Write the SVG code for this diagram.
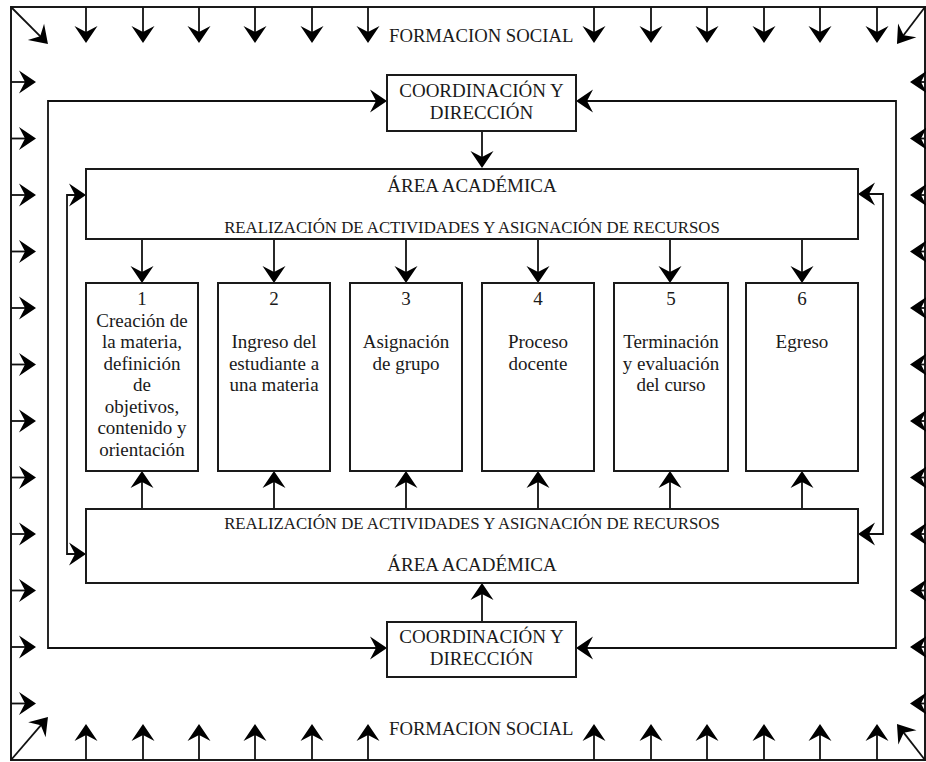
<svg xmlns="http://www.w3.org/2000/svg" width="926" height="762" viewBox="0 0 926 762">
<defs>
<marker id="ah" viewBox="-9 -13 20 26" refX="0" refY="0" markerWidth="20" markerHeight="26" orient="auto-start-reverse" markerUnits="userSpaceOnUse" overflow="visible">
<path d="M9,0 L-8,-11.5 L-2,0 L-8,11.5 Z" fill="#000"/>
</marker>
<style>
.bx{fill:#fff;stroke:#1a1a1a;stroke-width:2}
.ar{fill:none;stroke:#111;stroke-width:1.8;marker-end:url(#ah)}
.ar2{fill:none;stroke:#111;stroke-width:1.8;marker-start:url(#ah);marker-end:url(#ah)}
.t{font-family:"Liberation Serif","Times New Roman",serif;font-size:19px;fill:#1a1a1a;text-anchor:middle}
.r{font-size:16.8px}
.fs{font-family:"Liberation Serif","Times New Roman",serif;font-size:18.7px;fill:#1a1a1a}
</style>
</defs>
<rect x="0" y="0" width="926" height="762" fill="#fff"/>
<g id="frame">
<rect x="11" y="7" width="914" height="753" fill="none" stroke="#1a1a1a" stroke-width="2"/>
<text class="fs" x="389" y="42">FORMACION SOCIAL</text>
<text class="fs" x="389" y="735">FORMACION SOCIAL</text>
</g>
<g id="connectors">
<path class="ar" d="M86,7V34"/><path class="ar" d="M143,7V34"/><path class="ar" d="M199,7V34"/><path class="ar" d="M255,7V34"/><path class="ar" d="M312,7V34"/><path class="ar" d="M368,7V34"/>
<path class="ar" d="M594,7V34"/><path class="ar" d="M651,7V34"/><path class="ar" d="M707,7V34"/><path class="ar" d="M764,7V34"/><path class="ar" d="M820,7V34"/><path class="ar" d="M877,7V34"/>
<path class="ar" d="M86,760V733"/><path class="ar" d="M143,760V733"/><path class="ar" d="M199,760V733"/><path class="ar" d="M255,760V733"/><path class="ar" d="M312,760V733"/><path class="ar" d="M368,760V733"/>
<path class="ar" d="M594,760V733"/><path class="ar" d="M651,760V733"/><path class="ar" d="M707,760V733"/><path class="ar" d="M764,760V733"/><path class="ar" d="M820,760V733"/><path class="ar" d="M877,760V733"/>
<path class="ar" d="M11,82H27"/><path class="ar" d="M11,138.5H27"/><path class="ar" d="M11,195H27"/><path class="ar" d="M11,251.5H27"/><path class="ar" d="M11,308H27"/><path class="ar" d="M11,364.5H27"/>
<path class="ar" d="M11,421H27"/><path class="ar" d="M11,477.5H27"/><path class="ar" d="M11,534H27"/><path class="ar" d="M11,590.5H27"/><path class="ar" d="M11,647H27"/><path class="ar" d="M11,703.5H27"/>
<path class="ar" d="M925,82H919"/><path class="ar" d="M925,138.5H919"/><path class="ar" d="M925,195H919"/><path class="ar" d="M925,251.5H919"/><path class="ar" d="M925,308H919"/><path class="ar" d="M925,364.5H919"/>
<path class="ar" d="M925,421H919"/><path class="ar" d="M925,477.5H919"/><path class="ar" d="M925,534H919"/><path class="ar" d="M925,590.5H919"/><path class="ar" d="M925,647H919"/><path class="ar" d="M925,703.5H919"/>
<path class="ar" d="M11,7L41.6,37.6"/>
<path class="ar" d="M925,7L902.4,36.8"/>
<path class="ar" d="M11,760L42.1,723.8"/>
<path class="ar" d="M925,760L902.5,731.1"/>
<path class="ar2" d="M378,101H48V648H378"/>
<path class="ar2" d="M585,101H896V648H585"/>
<path class="ar2" d="M77,195H67V554H77"/>
<path class="ar2" d="M867,194H883V534H867"/>
<path class="ar" d="M482,131V159"/>
<path class="ar" d="M482,622V592"/>
<path class="ar" d="M142,239V274"/><path class="ar" d="M274,239V274"/><path class="ar" d="M406,239V274"/><path class="ar" d="M538,239V274"/><path class="ar" d="M670,239V274"/><path class="ar" d="M802,239V274"/>
<path class="ar" d="M142,509V480"/><path class="ar" d="M274,509V480"/><path class="ar" d="M406,509V480"/><path class="ar" d="M538,509V480"/><path class="ar" d="M670,509V480"/><path class="ar" d="M802,509V480"/>
</g>
<g id="coord-top">
<rect class="bx" x="387" y="75" width="189" height="56"/>
<text class="t" x="481.5" y="97">COORDINACIÓN Y</text>
<text class="t" x="481.5" y="119">DIRECCIÓN</text>
</g>
<g id="coord-bottom">
<rect class="bx" x="387" y="622" width="189" height="55"/>
<text class="t" x="481.5" y="643">COORDINACIÓN Y</text>
<text class="t" x="481.5" y="665">DIRECCIÓN</text>
</g>
<g id="area-top">
<rect class="bx" x="86" y="169" width="772" height="70"/>
<text class="t" x="472" y="192">ÁREA ACADÉMICA</text>
<text class="t r" x="472" y="233">REALIZACIÓN DE ACTIVIDADES Y ASIGNACIÓN DE RECURSOS</text>
</g>
<g id="area-bottom">
<rect class="bx" x="86" y="509" width="772" height="74"/>
<text class="t r" x="472" y="529">REALIZACIÓN DE ACTIVIDADES Y ASIGNACIÓN DE RECURSOS</text>
<text class="t" x="472" y="571">ÁREA ACADÉMICA</text>
</g>
<g id="stage1">
<rect class="bx" x="86" y="283" width="112" height="188"/>
<text class="t" x="142" y="305">1</text>
<text class="t" x="142" y="327">Creación de</text>
<text class="t" x="142" y="348">la materia,</text>
<text class="t" x="142" y="370">definición</text>
<text class="t" x="142" y="391">de</text>
<text class="t" x="142" y="413">objetivos,</text>
<text class="t" x="142" y="434">contenido y</text>
<text class="t" x="142" y="456">orientación</text>
</g>
<g id="stage2">
<rect class="bx" x="218" y="283" width="112" height="188"/>
<text class="t" x="274" y="305">2</text>
<text class="t" x="274" y="348">Ingreso del</text>
<text class="t" x="274" y="370">estudiante a</text>
<text class="t" x="274" y="391">una materia</text>
</g>
<g id="stage3">
<rect class="bx" x="350" y="283" width="112" height="188"/>
<text class="t" x="406" y="305">3</text>
<text class="t" x="406" y="348">Asignación</text>
<text class="t" x="406" y="370">de grupo</text>
</g>
<g id="stage4">
<rect class="bx" x="482" y="283" width="112" height="188"/>
<text class="t" x="538" y="305">4</text>
<text class="t" x="538" y="348">Proceso</text>
<text class="t" x="538" y="370">docente</text>
</g>
<g id="stage5">
<rect class="bx" x="614" y="283" width="114" height="188"/>
<text class="t" x="671" y="305">5</text>
<text class="t" x="671" y="348">Terminación</text>
<text class="t" x="671" y="370">y evaluación</text>
<text class="t" x="671" y="391">del curso</text>
</g>
<g id="stage6">
<rect class="bx" x="746" y="283" width="112" height="188"/>
<text class="t" x="802" y="305">6</text>
<text class="t" x="802" y="348">Egreso</text>
</g>
</svg>
